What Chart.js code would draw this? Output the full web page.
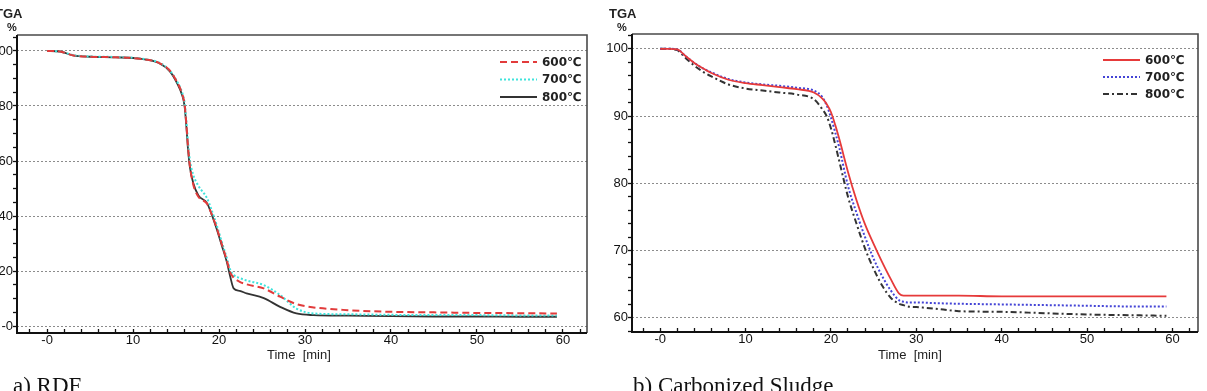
<!DOCTYPE html>
<html>
<head>
<meta charset="utf-8">
<script src="https://cdn.jsdelivr.net/npm/chart.js@4.4.1/dist/chart.umd.min.js"></script>
<style>
  html, body { margin: 0; padding: 0; background: #fff; }
  body { width: 1207px; height: 391px; position: relative; overflow: hidden; }
  .box { position: absolute; top: 0; height: 391px; }
  #boxA { left: -15px; width: 615px; }
  #boxB { left: 600px; width: 607px; }
  .txt { position: absolute; color: #222; line-height: 1; white-space: pre; font-family: "Liberation Sans", Arial, sans-serif; }
  .tga { font-size: 13px; font-weight: bold; top: 7px; }
  .pct { font-size: 11px; font-weight: bold; top: 22px; }
  .xt { font-size: 13px; top: 348px; }
  .cap { position: absolute; top: 374px; font-family: "Liberation Serif", "Times New Roman", serif; font-size: 23px; line-height: 23px; color: #111; white-space: nowrap; }
</style>
</head>
<body>
<div class="box" id="boxA"><canvas id="rdfChart" width="615" height="391"></canvas></div>
<div class="box" id="boxB"><canvas id="sludgeChart" width="607" height="391"></canvas></div>

<div class="txt tga" style="left:-5px">TGA</div>
<div class="txt pct" style="left:7px">%</div>
<div class="txt tga" style="left:609px">TGA</div>
<div class="txt pct" style="left:617px">%</div>
<div class="txt xt" style="left:267px">Time  [min]</div>
<div class="txt xt" style="left:878px">Time  [min]</div>
<div class="cap" style="left:13px">a) RDF</div>
<div class="cap" style="left:633px">b) Carbonized Sludge</div>

<script>
// a) RDF  (time in min, weight in %)
const rdfTime = [0, 1.5, 3, 5, 8, 11, 13, 14.3, 15.1, 15.7, 16.0, 16.2, 16.4, 16.6, 17.0, 17.6, 18.6, 19.1, 19.7, 20.3, 20.9, 21.3, 21.7, 22.4, 23.2, 25.2, 27.1, 29.0, 31, 35, 40, 45, 50, 55, 59.3];
const rdf600 = [100, 99.8, 98.4, 97.9, 97.7, 97.1, 95.7, 92.8, 88.8, 84.5, 80.5, 73.5, 65.0, 58.5, 51.5, 47.0, 44.5, 41.0, 36.0, 30.0, 24.0, 19.5, 17.6, 16.1, 15.2, 13.7, 10.7, 8.0, 6.8, 5.8, 5.2, 5.0, 4.8, 4.7, 4.6];
const rdf700 = [100, 99.8, 98.5, 98.0, 97.8, 97.2, 95.8, 92.8, 89.0, 85.0, 81.0, 74.5, 66.5, 60.5, 55.0, 51.0, 46.5, 42.5, 37.0, 30.8, 24.8, 20.5, 18.6, 17.5, 16.6, 14.9, 11.3, 6.4, 4.6, 4.3, 4.1, 4.0, 4.0, 3.9, 3.9];
const rdf800 = [100, 99.8, 98.4, 97.9, 97.7, 97.1, 95.6, 92.5, 88.4, 84.0, 79.8, 72.5, 64.0, 58.0, 52.0, 47.5, 44.7, 41.0, 35.6, 29.5, 23.4, 18.0, 13.7, 12.8, 11.9, 10.2, 7.0, 4.6, 4.0, 3.8, 3.6, 3.5, 3.5, 3.4, 3.4];

// b) Carbonized Sludge
const sludgeTime = [0, 1, 2, 3, 4, 5, 6, 8, 10, 12, 14, 16, 18, 19, 19.5, 20, 20.5, 21, 22, 23, 24, 25, 26, 27, 28, 28.5, 29, 30, 32, 35, 40, 45, 50, 55, 59.3];
const sludge600 = [100, 100, 99.9, 98.9, 97.9, 97.1, 96.4, 95.4, 94.9, 94.6, 94.3, 94.0, 93.5, 92.6, 91.8, 90.6, 88.7, 86.5, 81.7, 77.5, 73.9, 71.0, 68.3, 65.8, 63.6, 63.3, 63.3, 63.3, 63.3, 63.3, 63.2, 63.2, 63.2, 63.2, 63.2];
const sludge700 = [100, 100, 99.9, 98.9, 97.9, 97.1, 96.5, 95.5, 95.0, 94.7, 94.5, 94.2, 93.8, 92.8, 91.6, 89.8, 87.6, 85.2, 79.6, 75.6, 72.0, 68.8, 66.2, 64.1, 62.6, 62.4, 62.3, 62.3, 62.2, 62.1, 62.0, 61.9, 61.8, 61.7, 61.7];
const sludge800 = [100, 100, 99.8, 98.6, 97.5, 96.6, 95.9, 94.7, 94.1, 93.8, 93.5, 93.2, 92.5, 91.0, 90.0, 88.2, 85.8, 83.2, 78.0, 74.0, 70.3, 67.3, 64.8, 63.0, 62.1, 61.9, 61.7, 61.6, 61.4, 61.0, 60.9, 60.7, 60.5, 60.4, 60.3];

const seriesNames = ['600℃', '700℃', '800℃'];

// tick labels
const timeMajor = [0, 10, 20, 30, 40, 50, 60];
const rdfYMajor = [0, 20, 40, 60, 80, 100];
const sludgeYMajor = [60, 70, 80, 90, 100];

const tickFont = { family: 'Liberation Sans', size: 13, lineHeight: 1 };

function pairs(xs, ys) {
    return xs.map((x, i) => ({ x: x, y: ys[i] }));
}

function stepTicks(min, max, step) {
    const out = [];
    for (let v = Math.ceil(min / step) * step; v <= max; v += step) {
        out.push({ value: Math.round(v * 100) / 100 });
    }
    return out;
}

function labelFor(majors) {
    return v => majors.includes(v) ? (v === 0 ? '-0' : String(v)) : '';
}

// plot frame (axes + top/right border)
const framePlugin = {
    id: 'frame',
    afterDraw(chart) {
        const { ctx, chartArea: a } = chart;
        ctx.save();
        ctx.setLineDash([]);
        ctx.strokeStyle = '#4a4a4a';
        ctx.lineWidth = 1.6;
        ctx.beginPath();
        ctx.moveTo(a.left, a.top);
        ctx.lineTo(a.right, a.top);
        ctx.lineTo(a.right, a.bottom);
        ctx.stroke();
        ctx.strokeStyle = '#111';
        ctx.lineWidth = 2;
        ctx.beginPath();
        ctx.moveTo(a.left, a.top);
        ctx.lineTo(a.left, a.bottom);
        ctx.lineTo(a.right, a.bottom);
        ctx.stroke();
        ctx.restore();
    }
};

// legend drawn inside the plot, top right
const innerLegend = {
    id: 'innerLegend',
    afterDraw(chart, args, opts) {
        const { ctx, chartArea: a } = chart;
        ctx.save();
        chart.data.datasets.forEach((ds, i) => {
            const y = a.top + opts.top + i * opts.gap;
            const x0 = a.right - opts.right;
            ctx.strokeStyle = ds.borderColor;
            ctx.lineWidth = ds.borderWidth;
            ctx.setLineDash(ds.borderDash || []);
            ctx.beginPath();
            ctx.moveTo(x0, y);
            ctx.lineTo(x0 + opts.len, y);
            ctx.stroke();
            ctx.setLineDash([]);
            ctx.fillStyle = '#222';
            ctx.font = 'bold 12px "DejaVu Sans"';
            ctx.textBaseline = 'middle';
            ctx.fillText(ds.label, x0 + opts.len + 5, y + 0.5);
        });
        ctx.restore();
    }
};

function makeChart(id, cfg) {
    return new Chart(document.getElementById(id), {
        type: 'line',
        data: { datasets: cfg.datasets },
        options: {
            responsive: false,
            animation: false,
            devicePixelRatio: 1,
            layout: { padding: { top: cfg.top, right: cfg.right, left: 0, bottom: 0 } },
            elements: { point: { radius: 0 }, line: { cubicInterpolationMode: 'monotone', fill: false } },
            plugins: {
                legend: { display: false },
                tooltip: { enabled: false },
                innerLegend: cfg.legend
            },
            scales: {
                x: {
                    type: 'linear',
                    min: cfg.xMin,
                    max: cfg.xMax,
                    afterBuildTicks: s => { s.ticks = stepTicks(cfg.xMin, cfg.xMax, 2); },
                    afterFit: s => { s.height = cfg.xAxisH; },
                    ticks: { autoSkip: false, maxRotation: 0, padding: 5, color: '#111', font: tickFont, callback: labelFor(timeMajor) },
                    // ticks point inward, up into the plot
                    grid: { drawOnChartArea: false, tickLength: -4, tickColor: '#111', tickWidth: 1.3 },
                    border: { display: false }
                },
                y: {
                    type: 'linear',
                    min: cfg.yMin,
                    max: cfg.yMax,
                    afterBuildTicks: s => { s.ticks = stepTicks(cfg.yMin, cfg.yMax, cfg.yStep); },
                    afterFit: s => { s.width = 32; },
                    ticks: { autoSkip: false, padding: 0, color: '#111', font: tickFont, callback: labelFor(cfg.yMajor) },
                    grid: {
                        color: c => cfg.yMajor.includes(c.tick.value) ? '#8c8c8c' : 'rgba(0,0,0,0)',
                        lineWidth: 1,
                        tickLength: 4,
                        tickColor: '#111',
                        tickWidth: 1.3
                    },
                    border: { display: false, dash: [2, 2] }
                }
            }
        },
        plugins: [framePlugin, innerLegend]
    });
}

makeChart('rdfChart', {
    datasets: [
        { label: seriesNames[0], data: pairs(rdfTime, rdf600), borderColor: '#e23b3b', borderWidth: 2, borderDash: [7, 4] },
        { label: seriesNames[1], data: pairs(rdfTime, rdf700), borderColor: '#3fe3dc', borderWidth: 2, borderDash: [2, 2] },
        { label: seriesNames[2], data: pairs(rdfTime, rdf800), borderColor: '#333333', borderWidth: 1.8 }
    ],
    top: 35, right: 13, xAxisH: 58,
    xMin: -3.5, xMax: 62.8,
    yMin: -2.5, yMax: 105.8, yStep: 5, yMajor: rdfYMajor,
    legend: { top: 27, gap: 17.5, right: 87, len: 37 }
});

makeChart('sludgeChart', {
    datasets: [
        { label: seriesNames[0], data: pairs(sludgeTime, sludge600), borderColor: '#e63a3a', borderWidth: 1.8 },
        { label: seriesNames[1], data: pairs(sludgeTime, sludge700), borderColor: '#4444d6', borderWidth: 2, borderDash: [2, 2] },
        { label: seriesNames[2], data: pairs(sludgeTime, sludge800), borderColor: '#333333', borderWidth: 2, borderDash: [6, 3, 2, 3] }
    ],
    top: 34, right: 9, xAxisH: 59,
    xMin: -3.3, xMax: 63.0,
    yMin: 57.9, yMax: 102.2, yStep: 2, yMajor: sludgeYMajor,
    legend: { top: 26, gap: 17, right: 95, len: 37 }
});
</script>
</body>
</html>
